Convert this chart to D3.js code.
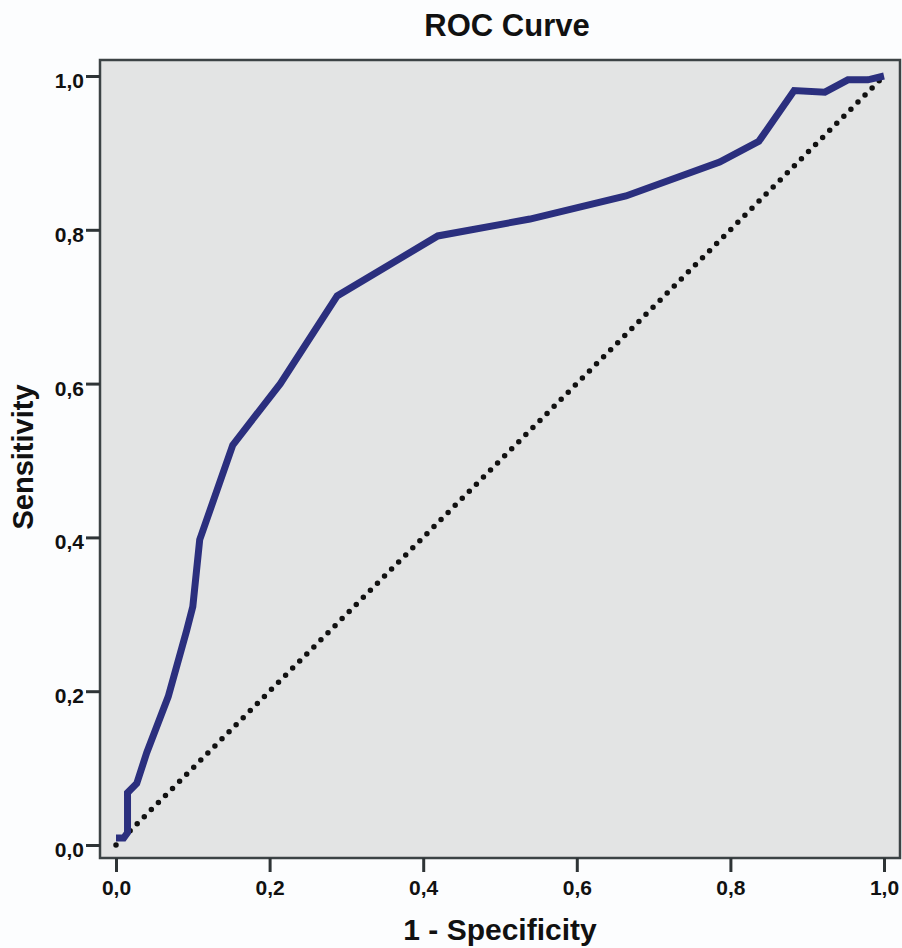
<!DOCTYPE html>
<html>
<head>
<meta charset="utf-8">
<script src="https://cdn.jsdelivr.net/npm/d3@7"></script>
<style>
  body { margin: 0; background: #fcfdfe; }
  svg { display: block; font-family: "Liberation Sans", Arial, sans-serif; }
</style>
</head>
<body>
<div id="chart"></div>
<script>
// ROC curve points
const fpr = [0.000, 0.010, 0.015, 0.015, 0.027, 0.040, 0.068, 0.092, 0.100, 0.109, 0.152, 0.214, 0.288, 0.419, 0.539, 0.664, 0.786, 0.837, 0.883, 0.923, 0.953, 0.979, 1.000];
const tpr = [0.009, 0.009, 0.016, 0.068, 0.080, 0.120, 0.193, 0.279, 0.310, 0.397, 0.520, 0.600, 0.714, 0.792, 0.814, 0.844, 0.888, 0.915, 0.981, 0.979, 0.995, 0.995, 1.000];
const refLine = [0, 1];
const tickValues = [0, 0.2, 0.4, 0.6, 0.8, 1.0];

const W = 902, H = 948;
const frame = { left: 100, right: 900, top: 60, bottom: 858 };

const svg = d3.select("#chart").append("svg")
    .attr("width", W)
    .attr("height", H);

const x = d3.scaleLinear().domain([0, 1]).range([116, 884]);
const y = d3.scaleLinear().domain([0, 1]).range([845, 76]);

// plot background + frame
svg.append("rect")
    .attr("x", frame.left)
    .attr("y", frame.top)
    .attr("width", frame.right - frame.left)
    .attr("height", frame.bottom - frame.top)
    .attr("fill", "#e3e4e4")
    .attr("stroke", "#3c4345")
    .attr("stroke-width", 2.5);

const fmt = d => d3.format(".1f")(d).replace(".", ",");

const yAxis = svg.append("g")
    .attr("transform", `translate(${frame.left},0)`)
    .call(d3.axisLeft(y).tickValues(tickValues).tickFormat(fmt).tickSize(14).tickPadding(2));

const xAxis = svg.append("g")
    .attr("transform", `translate(0,${frame.bottom})`)
    .call(d3.axisBottom(x).tickValues(tickValues).tickFormat(fmt).tickSize(14).tickPadding(8));

[yAxis, xAxis].forEach(a => {
    a.select(".domain").remove();
    a.selectAll(".tick line").attr("stroke", "#2e3436").attr("stroke-width", 3);
    a.selectAll(".tick text")
        .attr("fill", "#111")
        .style("font-size", "21px")
        .style("font-weight", "bold");
});
yAxis.selectAll(".tick text").attr("dy", "0.55em");

// diagonal reference line
svg.append("line")
    .attr("x1", x(refLine[0])).attr("y1", y(refLine[0]))
    .attr("x2", x(refLine[1])).attr("y2", y(refLine[1]))
    .attr("stroke", "#111")
    .attr("stroke-width", 5.5)
    .attr("stroke-linecap", "round")
    .attr("stroke-dasharray", "0 10");

// ROC curve
const line = d3.line()
    .x((d, i) => x(fpr[i]))
    .y((d, i) => y(tpr[i]));

svg.append("path")
    .datum(fpr)
    .attr("d", line)
    .attr("fill", "none")
    .attr("stroke", "#2b2f7e")
    .attr("stroke-width", 7)
    .attr("stroke-linejoin", "miter");

// titles
svg.append("text")
    .attr("x", 507)
    .attr("y", 36)
    .attr("text-anchor", "middle")
    .style("font-size", "31px")
    .style("font-weight", "bold")
    .attr("fill", "#111")
    .text("ROC Curve");

svg.append("text")
    .attr("x", 500)
    .attr("y", 940)
    .attr("text-anchor", "middle")
    .style("font-size", "30px")
    .style("font-weight", "bold")
    .attr("fill", "#111")
    .text("1 - Specificity");

svg.append("text")
    .attr("transform", "translate(33,457) rotate(-90)")
    .attr("text-anchor", "middle")
    .style("font-size", "29px")
    .style("font-weight", "bold")
    .attr("fill", "#111")
    .text("Sensitivity");
</script>
</body>
</html>
